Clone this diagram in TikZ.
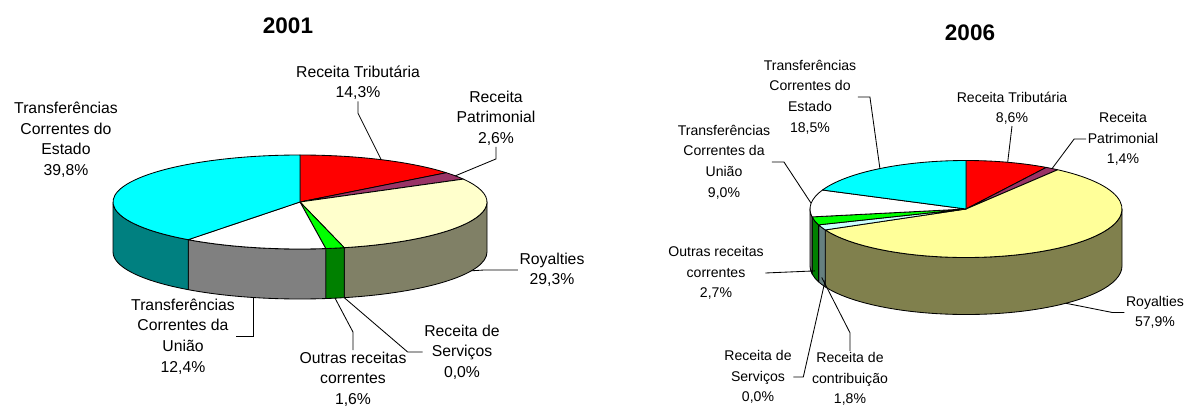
\documentclass[tikz,border=0pt]{standalone}
\usepackage{fontspec}
\setmainfont{Liberation Sans}
\usepackage{tikz}
\definecolor{xlcyan}{HTML}{00FFFF}
\definecolor{xlteal}{HTML}{008080}
\definecolor{xlred}{HTML}{FF0000}
\definecolor{xlpurple}{HTML}{993366}
\definecolor{xlcream}{HTML}{FFFFCC}
\definecolor{xlolive}{HTML}{808066}
\definecolor{xlyellow}{HTML}{FFFF99}
\definecolor{xlkhaki}{HTML}{80804D}
\definecolor{xlgreen}{HTML}{00FF00}
\definecolor{xldkgreen}{HTML}{008000}
\definecolor{xlgray}{HTML}{808080}
\definecolor{xlpale}{HTML}{CCFFFF}
\definecolor{xlslate}{HTML}{668080}
\tikzset{
    slice/.style={draw=black, line width=0.6pt, line join=round},
    leader/.style={draw=black, line width=0.6pt},
    lbl/.style={align=center, inner sep=1pt, font=\fontsize{11.2}{14.6}\selectfont},
    lblr/.style={lbl, font=\fontsize{10}{14.6}\selectfont},
    yearlbl/.style={inner sep=0pt, font=\fontsize{16}{18}\selectfont\bfseries},
}

\begin{document}
\begin{tikzpicture}[x=0.025cm, y=0.025cm]
    \useasboundingbox (0,0) rectangle (1185,410);

    % 2001
    \begin{scope}[shift={(300,208)}]
      \foreach \a/\b/\c in {0/-76.32/xlolive, -76.32/-82.08/xldkgreen,
                            -82.08/-126.72/xlgray, -126.72/-180/xlteal}
        \filldraw[slice, fill=\c] (\a:187 and 47)
          arc[start angle=\a, end angle=\b, x radius=187, y radius=47] -- ++(0,-50)
          arc[start angle=\b, end angle=\a, x radius=187, y radius=47] -- cycle;
      \foreach \a/\b/\c in {90/38.52/xlred, 38.52/29.16/xlpurple, 29.16/-76.32/xlcream,
                            -76.32/-82.08/xlgreen, -82.08/-126.72/white, -126.72/-270/xlcyan}
        \filldraw[slice, fill=\c] (0,0) -- (\a:187 and 47)
          arc[start angle=\a, end angle=\b, x radius=187, y radius=47] -- cycle;
      \coordinate (lTribP) at (64.26:187 and 47);
      \coordinate (lPatrP) at (33.84:187 and 47);
      \path (-23.58:187 and 47) ++(0,-50) coordinate (lRoyP);
      \path (-104.4:187 and 47) ++(0,-50) coordinate (lUniP);
      \path (-79.2:187 and 47) ++(0,-50) coordinate (lOutP);
      \path (-76.32:187 and 47) ++(0,-50) coordinate (lServP);
    \end{scope}

    % 2006
    \begin{scope}[shift={(966,201)}]
      \foreach \a/\b/\c in {0/-154.44/xlkhaki, -154.44/-160.92/xlslate,
                            -160.92/-170.64/xldkgreen, -170.64/-180/xlgray}
        \filldraw[slice, fill=\c] (\a:156 and 48.5)
          arc[start angle=\a, end angle=\b, x radius=156, y radius=48.5] -- ++(0,-57)
          arc[start angle=\b, end angle=\a, x radius=156, y radius=48.5] -- cycle;
      \foreach \a/\b/\c in {90/59.04/xlred, 59.04/54/xlpurple, 54/-154.44/xlyellow,
                            -154.44/-160.92/xlpale, -160.92/-170.64/xlgreen,
                            -170.64/-203.04/white, -203.04/-270/xlcyan}
        \filldraw[slice, fill=\c] (0,0) -- (\a:156 and 48.5)
          arc[start angle=\a, end angle=\b, x radius=156, y radius=48.5] -- cycle;
      \coordinate (rEstP) at (123.5:156 and 48.5);
      \coordinate (rUniP) at (173.2:156 and 48.5);
      \coordinate (rTribP) at (74.5:156 and 48.5);
      \coordinate (rPatrP) at (56.5:156 and 48.5);
      \path (-50.2:156 and 48.5) ++(0,-57) coordinate (rRoyP);
      \path (-165.8:156 and 48.5) ++(0,-50) coordinate (rOutP);
      \path (-154.44:156 and 48.5) ++(0,-50) coordinate (rServP);
      \path (-157.68:156 and 48.5) ++(0,-50) coordinate (rContP);
    \end{scope}

    \node[yearlbl] (y2001) at (288,384) {2001};
    \node[yearlbl] (y2006) at (970,377) {2006};

    \node[lbl] (lTrib) at (358,327.5) {Receita Tributária\\14,3\%};
    \node[lbl] (lPatr) at (496,292) {Receita\\Patrimonial\\2,6\%};
    \node[lbl] (lEst) at (66,270) {Transferências\\Correntes do\\Estado\\39,8\%};
    \node[lbl] (lRoy) at (552,140) {Royalties\\29,3\%};
    \node[lbl] (lUni) at (183,73.5) {Transferências\\Correntes da\\União\\12,4\%};
    \node[lbl] (lOut) at (353,31) {Outras receitas\\correntes\\1,6\%};
    \node[lbl] (lServ) at (462,58) {Receita de\\Serviços\\0,0\%};

    \node[lblr] (rEst) at (810,313) {Transferências\\Correntes do\\Estado\\18,5\%};
    \node[lblr] (rUni) at (724,248) {Transferências\\Correntes da\\União\\9,0\%};
    \node[lblr] (rTrib) at (1012,302) {Receita Tributária\\8,6\%};
    \node[lblr] (rPatr) at (1123,271) {Receita\\Patrimonial\\1,4\%};
    \node[lblr] (rRoy) at (1155,97.5) {Royalties\\57,9\%};
    \node[lblr] (rOut) at (716,137) {Outras receitas\\correntes\\2,7\%};
    \node[lblr] (rServ) at (758,33) {Receita de\\Serviços\\0,0\%};
    \node[lblr] (rCont) at (850,31) {Receita de\\contribuição\\1,8\%};

    \draw[leader] (lTrib.south) -- ++(0,-12) -- (lTribP);
    \draw[leader] (lPatr.south) -- ++(0,-12) -- (lPatrP);
    \draw[leader] (lRoy.west) -- ++(-34,0) -- (lRoyP);
    \draw[leader] (lUni.east) -- (lUni.east -| lUniP) -- (lUniP);
    \draw[leader] (lOut.north) -- ++(0,18) -- (lOutP);
    \draw[leader] (lServ.west) -- ++(-15,0) -- (lServP);

    \draw[leader] (rEst.east) -- ++(12,0) -- (rEstP);
    \draw[leader] (rUni.east) -- ++(12,0) -- (rUniP);
    \draw[leader] (rTrib.south) -- (rTribP);
    \draw[leader] (rPatr.west) -- ++(-12,0) -- (rPatrP);
    \draw[leader] (rRoy.west) -- ++(-12,0) -- (rRoyP);
    \draw[leader] (rOut.east) -- (rOutP);
    \draw[leader] (rServ.east) -- ++(10,0) -- (rServP);
    \draw[leader] (rCont.north) -- ++(0,18) -- (rContP);
\end{tikzpicture}
\end{document}
